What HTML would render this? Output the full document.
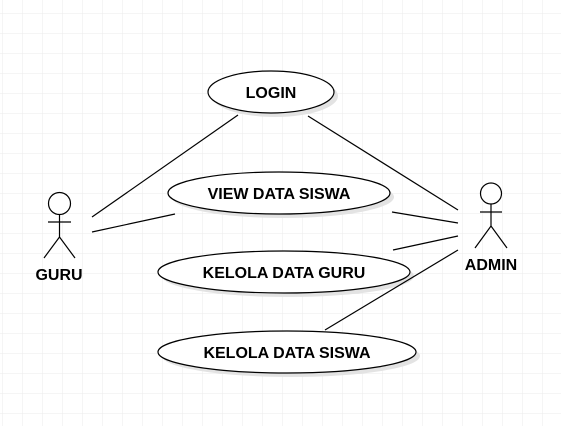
<!DOCTYPE html>
<html><head><meta charset="utf-8"><style>
html,body{margin:0;padding:0;background:#fff;}
svg{display:block;}
text{font-family:"Liberation Sans",Arial,sans-serif;font-weight:bold;font-size:16px;fill:#000;}
</style></head><body>
<svg width="561" height="426" viewBox="0 0 561 426" xmlns="http://www.w3.org/2000/svg">
<defs>
<pattern id="g" x="2.5" y="13.5" width="20" height="20" patternUnits="userSpaceOnUse">
<path d="M0 0H20M0 0V20" stroke="#ebebeb" stroke-width="1" fill="none"/>
</pattern>
</defs>
<rect width="561" height="426" fill="url(#g)"/>
<g fill="#e3e3e3">
<ellipse cx="275" cy="96" rx="63" ry="21"/>
<ellipse cx="283" cy="197" rx="111" ry="21"/>
<ellipse cx="288" cy="276" rx="126" ry="21"/>
<ellipse cx="291" cy="356" rx="129" ry="21"/>
</g>
<g fill="#fff" stroke="#000" stroke-width="1.2">
<ellipse cx="271" cy="92" rx="63" ry="21"/>
<ellipse cx="279" cy="193" rx="111" ry="21"/>
<ellipse cx="284" cy="272" rx="126" ry="21"/>
<ellipse cx="287" cy="352" rx="129" ry="21"/>
</g>
<g text-anchor="middle">
<text x="271" y="98">LOGIN</text>
<text x="279" y="199">VIEW DATA SISWA</text>
<text x="284" y="278">KELOLA DATA GURU</text>
<text x="287" y="358">KELOLA DATA SISWA</text>
<text x="59" y="280">GURU</text>
<text x="491" y="270">ADMIN</text>
</g>
<g stroke="#000" stroke-width="1.2" fill="none">
<line x1="92" y1="217" x2="238" y2="115"/>
<line x1="92" y1="232" x2="175" y2="214"/>
<line x1="308" y1="116" x2="458" y2="210"/>
<line x1="392" y1="212" x2="458" y2="223"/>
<line x1="393" y1="250" x2="458" y2="236"/>
<line x1="325" y1="330" x2="458" y2="250"/>
<circle cx="59.5" cy="203.5" r="11" fill="#fff"/>
<line x1="59.5" y1="214.5" x2="59.5" y2="237"/>
<line x1="48" y1="222" x2="71" y2="222"/>
<path d="M44 258L59.5 237L75 258"/>
<circle cx="491" cy="193.5" r="10.5" fill="#fff"/>
<line x1="491" y1="204" x2="491" y2="226"/>
<line x1="480" y1="212" x2="502" y2="212"/>
<path d="M475 248L491 226L507 248"/>
</g>
</svg>
</body></html>
